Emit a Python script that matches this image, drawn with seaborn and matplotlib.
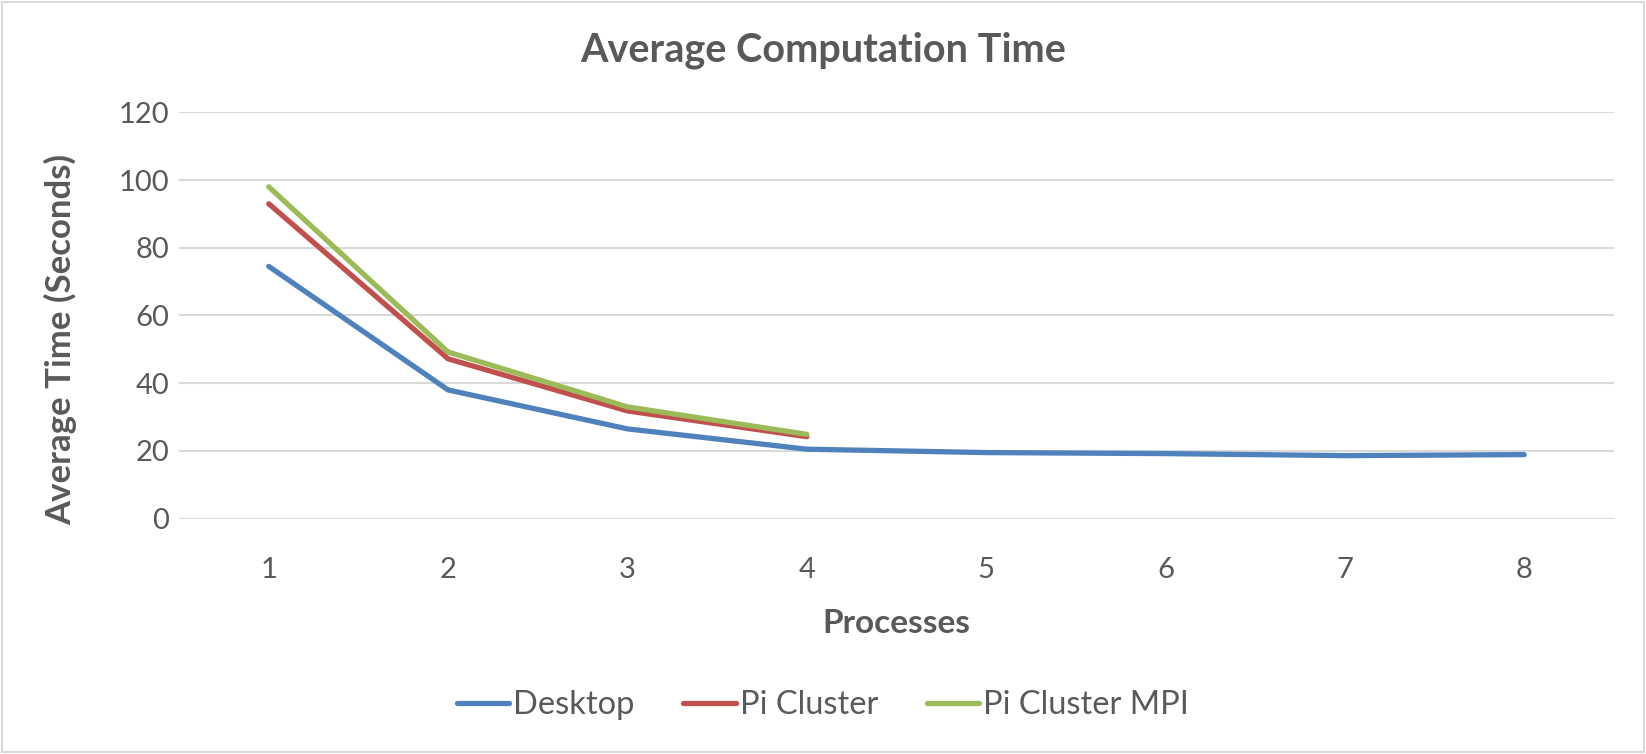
import numpy as np
import pandas as pd
import matplotlib
matplotlib.use("Agg")
import matplotlib.pyplot as plt
import seaborn as sns

# values
processes = [1, 2, 3, 4, 5, 6, 7, 8]
desktop = [74.5, 38.0, 26.5, 20.5, 19.5, 19.2, 18.6, 18.9]
pi_cluster = [93.0, 47.2, 31.8, 24.2]
pi_cluster_mpi = [98.0, 49.2, 33.0, 24.9]
series_names = ["Desktop", "Pi Cluster", "Pi Cluster MPI"]
y_ticks = [0, 20, 40, 60, 80, 100, 120]

df = pd.concat([
    pd.DataFrame({"Processes": processes, "Time": desktop, "Series": series_names[0]}),
    pd.DataFrame({"Processes": processes[:len(pi_cluster)], "Time": pi_cluster, "Series": series_names[1]}),
    pd.DataFrame({"Processes": processes[:len(pi_cluster_mpi)], "Time": pi_cluster_mpi, "Series": series_names[2]}),
])

sns.set_theme(style="white")
plt.rcParams["font.family"] = ["Lato", "DejaVu Sans"]
text_color = "#595959"
palette = {"Desktop": "#4F81BD", "Pi Cluster": "#C0504D", "Pi Cluster MPI": "#9BBB59"}

fig = plt.figure(figsize=(16.46, 7.54), dpi=100)
ax = fig.add_axes([0.1088, 0.3122, 0.9805 - 0.1088, 0.851 - 0.3122])

sns.lineplot(data=df, x="Processes", y="Time", hue="Series", palette=palette,
             hue_order=series_names, linewidth=3.8, ax=ax, legend=True)
for line in ax.get_lines():
    line.set_solid_capstyle("round")
    line.set_solid_joinstyle("round")

ax.set_xlim(0.5, 8.5)
ax.set_ylim(0, 120)
ax.set_xticks(processes)
ax.set_yticks(y_ticks)
ax.grid(axis="y", color="#D9D9D9", linewidth=1.5)
ax.grid(axis="x", visible=False)
ax.set_axisbelow(True)
sns.despine(ax=ax, left=True, bottom=True)
ax.tick_params(axis="both", length=0, labelsize=21, labelcolor=text_color)
ax.tick_params(axis="y", pad=7)
ax.tick_params(axis="x", pad=28)

ax.set_xlabel("Processes", fontsize=24, fontweight="bold", color=text_color)
ax.set_ylabel("Average Time (Seconds)", fontsize=25, fontweight="bold", color=text_color)
ax.xaxis.set_label_coords(0.5, -0.222)
ax.yaxis.set_label_coords(-0.071, 0.442)

fig.text(0.5, 0.933, "Average Computation Time", ha="center", va="center",
         fontsize=28.5, fontweight="bold", color=text_color)

handles, labels = ax.get_legend_handles_labels()
ax.get_legend().remove()
leg = fig.legend(handles, labels, loc="center", bbox_to_anchor=(0.5, 0.065), ncol=3,
                 frameon=False, fontsize=23.5, handlelength=1.6, handletextpad=0.12,
                 columnspacing=1.5)
for t in leg.get_texts():
    t.set_color(text_color)

fig.patches.append(plt.Rectangle((0.001, 0.002), 0.998, 0.996, transform=fig.transFigure,
                                 fill=False, edgecolor="#D9D9D9", linewidth=1.5))

fig.savefig("out.png", dpi=100, facecolor="white")
